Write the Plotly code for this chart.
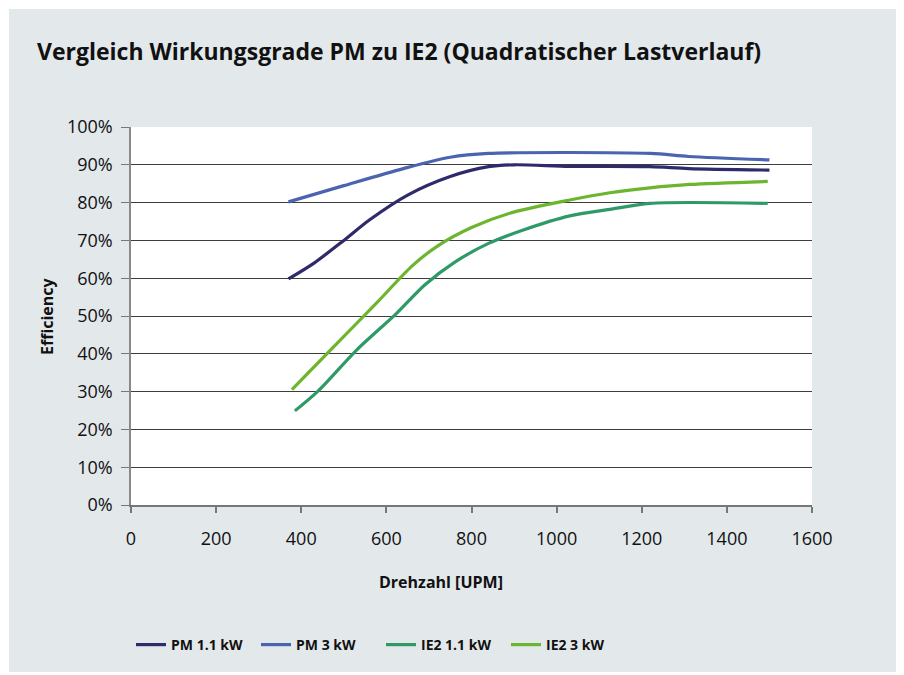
import plotly.graph_objects as go

# Data
pm11_rpm = [370, 430, 500, 560, 650, 750, 840, 900, 1030, 1220, 1310, 1500]
pm11_eff = [59.8, 64.0, 70.0, 75.4, 82.0, 86.9, 89.5, 90.0, 89.6, 89.5, 89.0, 88.6]

pm3_rpm = [370, 500, 640, 750, 840, 1220, 1310, 1500]
pm3_eff = [80.2, 84.5, 89.0, 92.0, 93.0, 93.0, 92.2, 91.3]

ie211_rpm = [385, 440, 530, 624, 690, 760, 840, 920, 1031, 1125, 1219, 1496]
ie211_eff = [24.9, 30.2, 41.0, 50.7, 58.2, 64.2, 69.2, 72.7, 76.5, 78.2, 79.8, 79.8]

ie23_rpm = [378, 480, 580, 660, 720, 800, 890, 1031, 1125, 1219, 1313, 1496]
ie23_eff = [30.5, 42.3, 53.8, 63.2, 68.5, 73.4, 77.2, 80.7, 82.6, 83.9, 84.8, 85.6]

series_names = ["PM 1.1 kW", "PM 3 kW", "IE2 1.1 kW", "IE2 3 kW"]
series_colors = ["#2e2a6b", "#4a64b0", "#2e9a68", "#6cb52f"]
y_ticks = list(range(0, 101, 10))
y_ticktext = [f"{v}%" for v in y_ticks]
x_ticks = list(range(0, 1601, 200))

FONT = "Open Sans"
BG = "#e3e8eb"

fig = go.Figure()
for name, color, xs, ys in zip(series_names, series_colors,
                               [pm11_rpm, pm3_rpm, ie211_rpm, ie23_rpm],
                               [pm11_eff, pm3_eff, ie211_eff, ie23_eff]):
    fig.add_trace(go.Scatter(x=xs, y=ys, name=name, mode="lines",
                             line=dict(color=color, width=3.2, shape="spline", smoothing=0.8)))

OFF = 8  # page body margin
W, H = 904 - OFF, 675 - OFF
L, R, T, B = 131 - OFF, 812 - OFF, 127 - OFF, 505 - OFF

def px_x(p):
    return (p - OFF - L) / (R - L)

def px_y(p):
    return (B - (p - OFF)) / (B - T)

fig.update_layout(
    width=W, height=H,
    margin=dict(l=L, r=W - R, t=T, b=H - B),
    paper_bgcolor="white",
    plot_bgcolor="white",
    font=dict(family=FONT, color="#1a1a1a"),
    title=dict(text="<b>Vergleich Wirkungsgrade PM zu IE2 (Quadratischer Lastverlauf)</b>",
               font=dict(size=23, family=FONT, color="#111"),
               x=(37 - OFF) / W, xanchor="left", y=1 - (52 - OFF) / H, yanchor="middle"),
    showlegend=True,
    legend=dict(orientation="h", x=px_x(131), xanchor="left", y=px_y(645), yanchor="middle",
                font=dict(size=14, family=FONT, color="#111", weight="bold"),
                bgcolor="rgba(0,0,0,0)", entrywidth=80, entrywidthmode="pixels",
                traceorder="normal"),
    xaxis=dict(range=[0, 1600], tickvals=x_ticks, showgrid=False, zeroline=False,
               showline=True, linecolor="#777", linewidth=1.5,
               ticks="outside", ticklen=6, tickcolor="#777", tickwidth=1.5,
               ticklabelstandoff=11,
               tickfont=dict(size=18, family=FONT, color="#111"), fixedrange=True),
    yaxis=dict(range=[0, 100], tickmode="array", tickvals=y_ticks, ticktext=y_ticktext,
               showgrid=True, gridcolor="#3d3d3d", gridwidth=1, zeroline=False,
               showline=True, linecolor="#888", linewidth=1.5,
               ticks="outside", ticklen=8, tickcolor="#777", tickwidth=1.2,
               ticklabelstandoff=5,
               tickfont=dict(size=18, family=FONT, color="#111"), fixedrange=True),
    shapes=[
        dict(type="rect", xref="paper", yref="paper", layer="below",
             x0=px_x(9), x1=px_x(900), y0=px_y(672), y1=px_y(9),
             fillcolor=BG, line=dict(width=0)),
        dict(type="rect", xref="paper", yref="paper", layer="below",
             x0=0, x1=1, y0=0, y1=1, fillcolor="white", line=dict(width=0)),
    ],
    annotations=[
        dict(text="<b>Drehzahl [UPM]</b>", xref="paper", yref="paper",
             x=px_x(441), y=px_y(582), xanchor="center", yanchor="middle",
             showarrow=False, font=dict(size=16, family=FONT, color="#111")),
        dict(text="<b>Efficiency</b>", xref="paper", yref="paper",
             x=px_x(47), y=px_y(316), xanchor="center", yanchor="middle", textangle=-90,
             showarrow=False, font=dict(size=16, family=FONT, color="#111")),
    ],
)

fig.write_html("out.html")
